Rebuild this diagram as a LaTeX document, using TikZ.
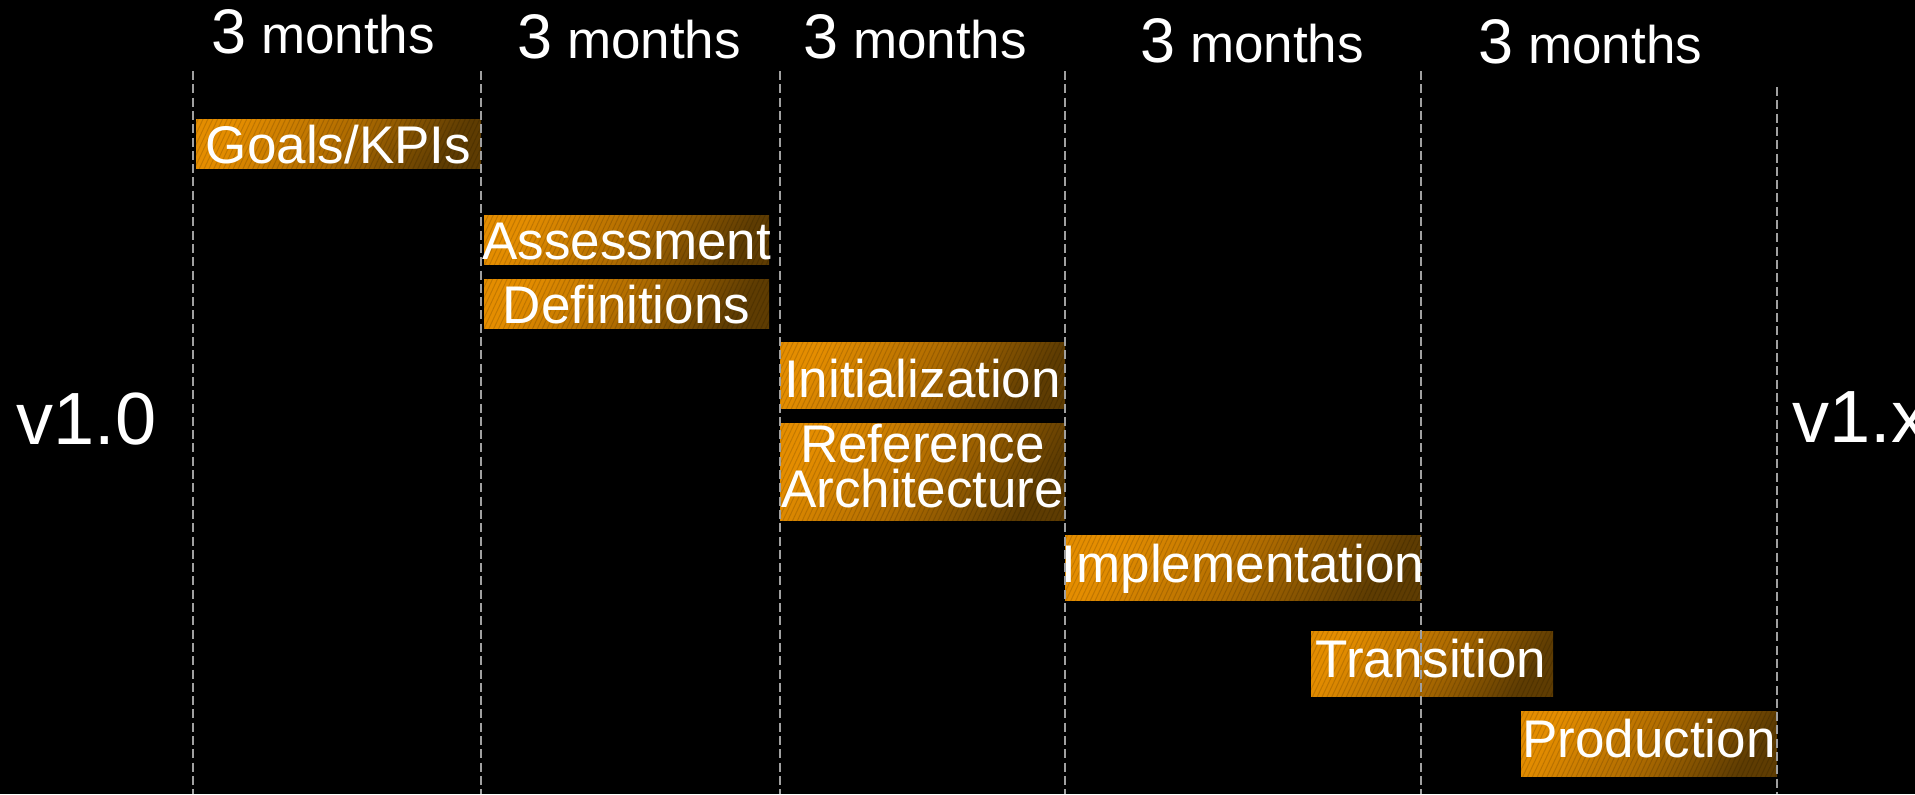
\documentclass[tikz,border=0pt]{standalone}
\usepackage{fontspec}
\setmainfont{Liberation Sans}
\usetikzlibrary{patterns.meta}
\definecolor{obright}{HTML}{E48D00}
\definecolor{omid}{HTML}{B06C00}
\definecolor{odark}{HTML}{5E3C02}
\definecolor{dashgray}{HTML}{A0A0A0}
\tikzset{
  phasebox/.style={top color=obright, bottom color=odark, middle color=omid, shading angle=55},
  phasetex/.style={pattern={Lines[angle=65,distance=2.2pt,line width=0.5pt]}, pattern color=black, opacity=0.14},
  phasetext/.style={anchor=base, text=white, inner sep=0pt, font=\fontsize{26.5}{26.5}\selectfont},
  monthlabel/.style={anchor=base west, text=white, inner sep=0pt, font=\fontsize{26.5}{26.5}\selectfont},
  verlabel/.style={anchor=base west, text=white, inner sep=0pt, font=\fontsize{37}{37}\selectfont},
  gridline/.style={draw=dashgray, line width=1pt, dash pattern=on 4.5pt off 2.15pt}
}
\newcommand{\phasebar}[4]{%
  \shade[phasebox] (#1,#2) rectangle (#3,#4);
  \fill[phasetex] (#1,#2) rectangle (#3,#4);
}
\begin{document}
\begin{tikzpicture}[x=0.5pt, y=-0.5pt]
  \fill[black] (0,0) rectangle (1915,794);
  \useasboundingbox (0,0) rectangle (1915,794);

  % month labels
  \node[monthlabel] (m1) at (211,53) {{\fontsize{31.5}{31.5}\selectfont 3} months};
  \node[monthlabel] (m2) at (517,58) {{\fontsize{31.5}{31.5}\selectfont 3} months};
  \node[monthlabel] (m3) at (803,58) {{\fontsize{31.5}{31.5}\selectfont 3} months};
  \node[monthlabel] (m4) at (1140,62) {{\fontsize{31.5}{31.5}\selectfont 3} months};
  \node[monthlabel] (m5) at (1478,63) {{\fontsize{31.5}{31.5}\selectfont 3} months};

  % version labels
  \node[verlabel] (v10) at (16,444) {v1.0};
  \node[verlabel] (v1x) at (1792,442) {v1.x};

  % phase bars
  \phasebar{196}{119}{481}{168}
  \phasebar{484}{215}{769}{264}
  \phasebar{484}{279}{769}{328}
  \phasebar{780}{342}{1065}{408}
  \phasebar{780}{423}{1065}{520}
  \phasebar{1065}{535}{1421}{600}
  \phasebar{1311}{631}{1553}{696}
  \phasebar{1521}{711}{1777}{776}

  \node[phasetext] (goals) at (338.5,163) {Goals/KPIs};
  \node[phasetext] (assess) at (626.5,259) {Assessment};
  \node[phasetext] (defs) at (626.5,323) {Definitions};
  \node[phasetext] (init) at (922.5,397) {Initialization};
  \node[phasetext] (ref1) at (922.5,462) {Reference};
  \node[phasetext] (ref2) at (922.5,507) {Architecture};
  \node[phasetext] (impl) at (1243,582) {Implementation};
  \node[phasetext] (trans) at (1431,677) {Transition};
  \node[phasetext] (prod) at (1649,757) {Production};

  % dashed period separators
  \coordinate (s1t) at (193,71);  \coordinate (s1b) at (193,794);
  \coordinate (s2t) at (481,71);  \coordinate (s2b) at (481,794);
  \coordinate (s3t) at (780,71);  \coordinate (s3b) at (780,794);
  \coordinate (s4t) at (1065,71); \coordinate (s4b) at (1065,794);
  \coordinate (s5t) at (1421,71); \coordinate (s5b) at (1421,794);
  \coordinate (s6t) at (1777,87); \coordinate (s6b) at (1777,794);
  \foreach \i in {1,...,6} {\draw[gridline] (s\i t) -- (s\i b);}
\end{tikzpicture}
\end{document}
